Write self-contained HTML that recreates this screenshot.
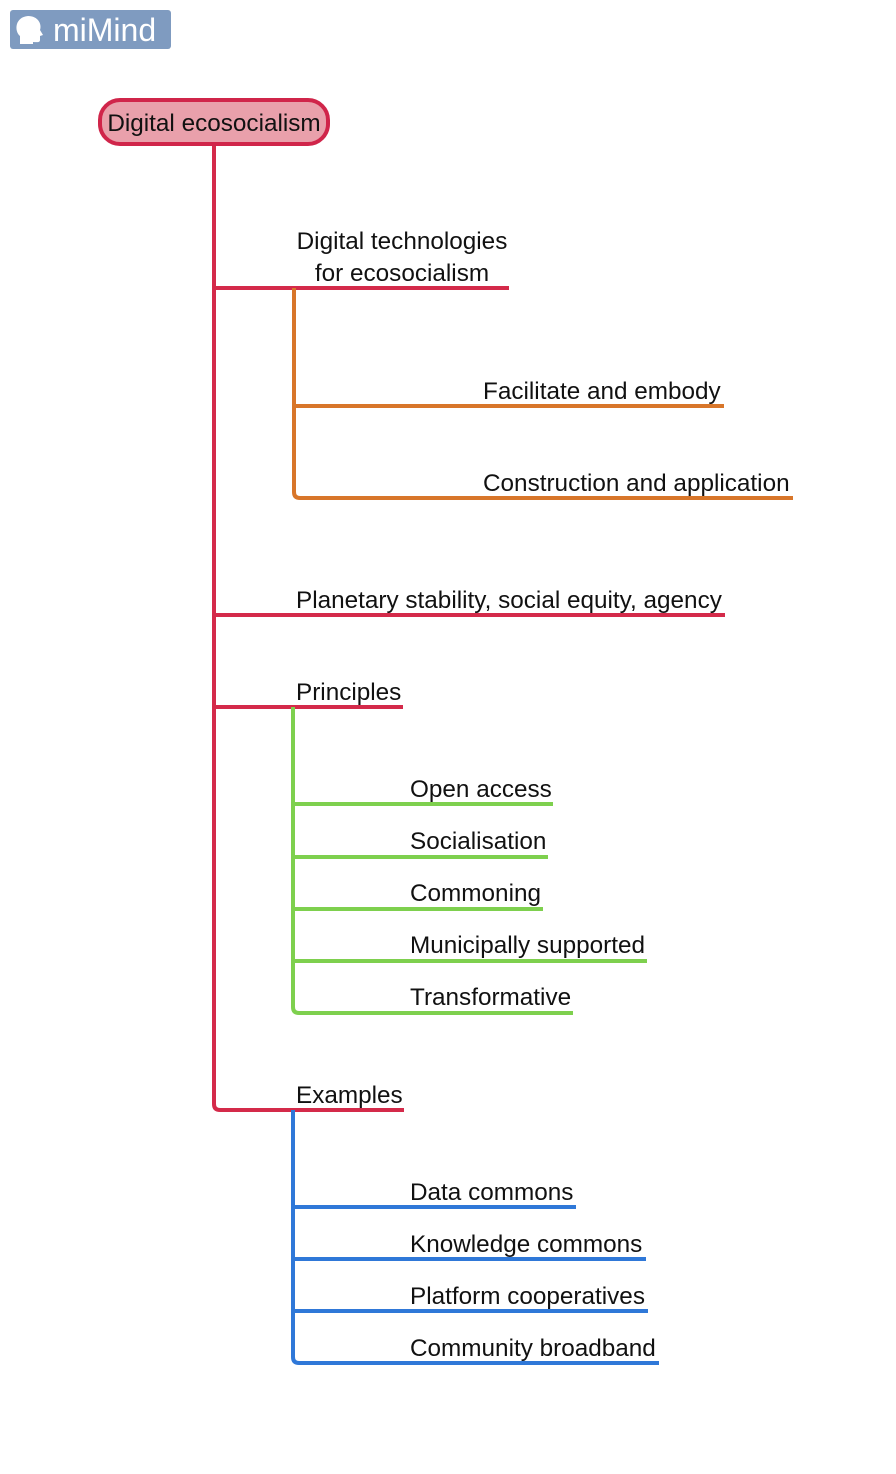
<!DOCTYPE html>
<html><head><meta charset="utf-8"><style>
html,body{margin:0;padding:0;background:#fff;}
svg{display:block;}
text{font-family:"Liberation Sans",sans-serif;font-size:24.3px;fill:#111;}
</style></head><body>
<svg width="896" height="1474" viewBox="0 0 896 1474" xmlns="http://www.w3.org/2000/svg">
<rect x="10" y="10" width="161" height="39" rx="3" fill="#7f9bc0"/>
<path d="M20 44 L20 36 C14 31 15 17 28 16 C38 16 42 24 40 30 L43 35 L40 36 L40 40 C40 43 36 42 33 42 L33 44 Z" fill="#fff"/>
<text x="53" y="41" style="font-size:32px;fill:#fff">miMind</text>

<g fill="none" stroke-width="4" stroke-linecap="butt">
<path d="M214 146 V1104 Q214 1110 220 1110 H404" stroke="#d42a4a"/>
<path d="M214 288 H509 M214 615 H725 M214 707 H403" stroke="#d42a4a"/>
<path d="M294 288 V492 Q294 498 300 498 H793 M294 406 H724" stroke="#d8762a"/>
<path d="M293 707 V1007 Q293 1013 299 1013 H573 M293 804 H553 M293 857 H548 M293 909 H543 M293 961 H647" stroke="#7ed04e"/>
<path d="M293 1110 V1357 Q293 1363 299 1363 H659 M293 1207 H576 M293 1259 H646 M293 1311 H648" stroke="#2f78d8"/>
</g>

<rect x="100" y="100" width="228" height="44" rx="20" fill="#e9a0ab" stroke="#d0254a" stroke-width="4"/>
<text x="214" y="131" text-anchor="middle">Digital ecosocialism</text>

<text x="402" y="249" text-anchor="middle">Digital technologies</text>
<text x="402" y="281" text-anchor="middle">for ecosocialism</text>
<text x="483" y="399">Facilitate and embody</text>
<text x="483" y="491">Construction and application</text>
<text x="296" y="608">Planetary stability, social equity, agency</text>
<text x="296" y="700">Principles</text>
<text x="410" y="797">Open access</text>
<text x="410" y="849">Socialisation</text>
<text x="410" y="901">Commoning</text>
<text x="410" y="953">Municipally supported</text>
<text x="410" y="1005">Transformative</text>
<text x="296" y="1103">Examples</text>
<text x="410" y="1200">Data commons</text>
<text x="410" y="1252">Knowledge commons</text>
<text x="410" y="1304">Platform cooperatives</text>
<text x="410" y="1356">Community broadband</text>
</svg>
</body></html>
